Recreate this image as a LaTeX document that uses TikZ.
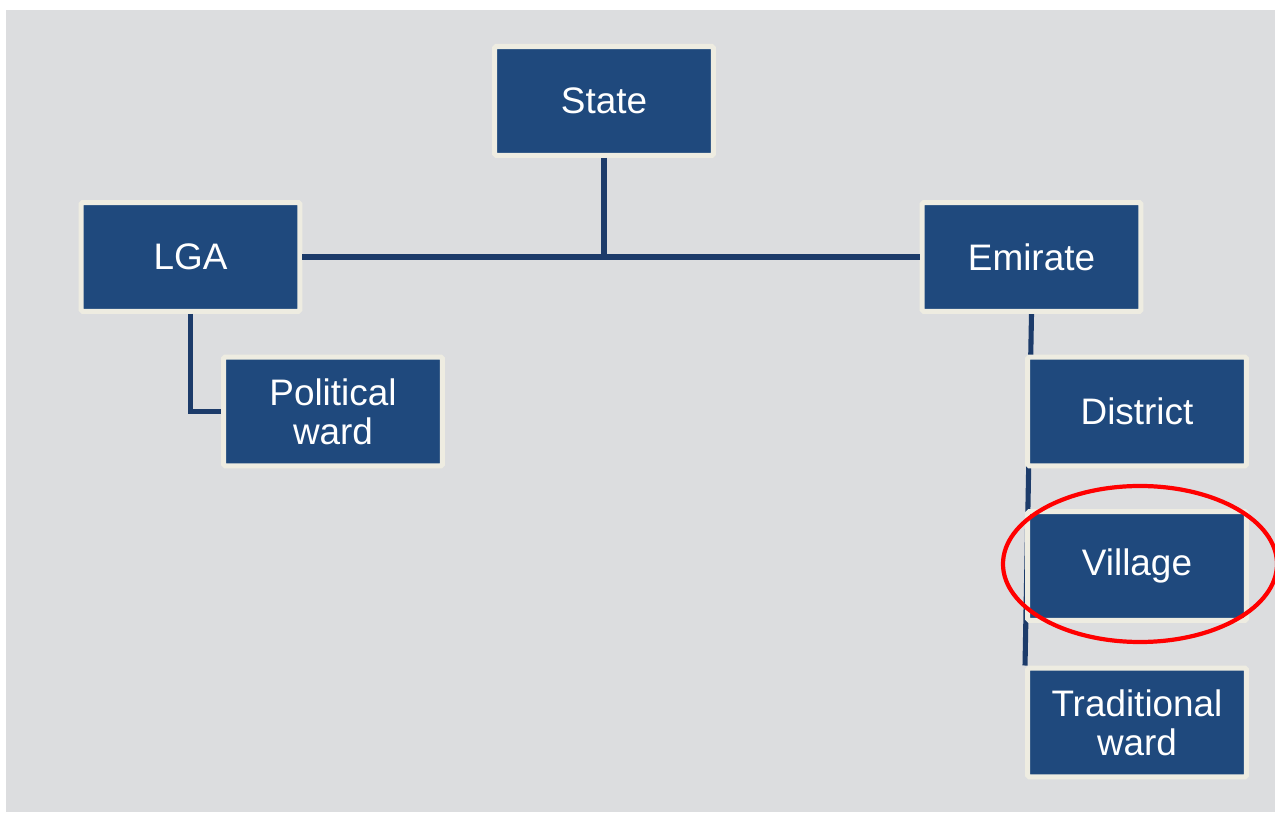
\documentclass[tikz,border=0pt]{standalone}
\usepackage{fontspec}
\setmainfont{Liberation Sans}
\usepackage{tikz}
\usetikzlibrary{calc,backgrounds}

\definecolor{boxblue}{RGB}{31,73,125}
\definecolor{boxrim}{RGB}{238,236,225}
\definecolor{linkblue}{RGB}{28,59,106}
\definecolor{slidegrey}{RGB}{220,221,223}

\tikzset{
    unit/.style={rectangle, rounded corners=1pt, fill=boxblue, draw=boxrim,
        line width=2.85pt, minimum width=4.38cm, minimum height=2.18cm,
        inner sep=0pt, text=white, align=center,
        font=\fontsize{21}{22}\selectfont},
    link/.style={draw=linkblue, line width=2.9pt}
}

\begin{document}
\begin{tikzpicture}[x=0.02cm, y=-0.02cm]
        \useasboundingbox (0,0) rectangle (1275,813);

        \node[unit] (state) at (604,101) {State};
        \node[unit] (lga) at (190.5,257) {LGA};
        \node[unit] (emirate) at (1031.5,257) {Emirate};
        \node[unit] (pward) at (333,411.5) {Political\\ward};
        \node[unit] (district) at (1137,411.5) {District};
        \node[unit] (village) at (1137,566) {Village};
        \node[unit] (tward) at (1137,722.5) {Traditional\\ward};

        \begin{pgfonlayer}{background}
        \fill[slidegrey] (6,10) rectangle (1275,812);
        \draw[link] (emirate.south) -- (tward.north west);
        \end{pgfonlayer}

        \draw[link] (state.south) -- (state.south |- lga.east);
        \draw[link] (lga.east) -- (emirate.west);
        \draw[link] (lga.south) |- (pward.west);

        % circled level
        \draw[red, line width=2.4pt] (1140,564) ellipse [x radius=137, y radius=78];

    \end{tikzpicture}
\end{document}
